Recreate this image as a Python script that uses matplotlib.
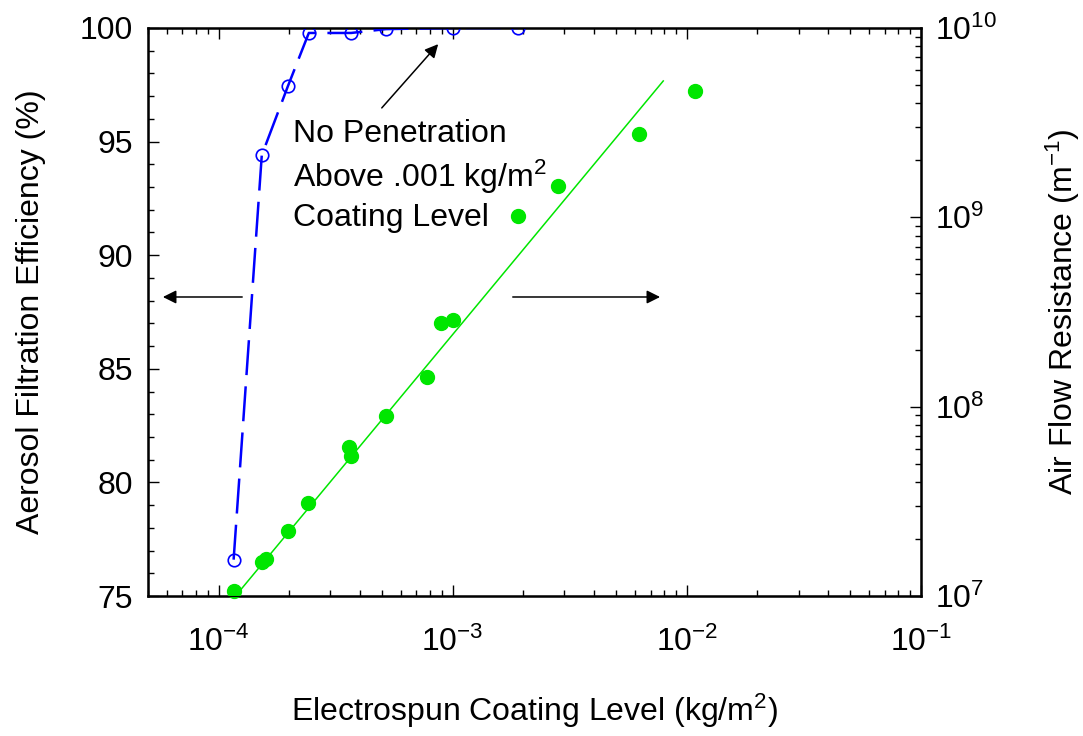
import matplotlib
matplotlib.use('Agg')
import matplotlib.pyplot as plt
from matplotlib.ticker import MultipleLocator, LogLocator, NullFormatter

plt.rcParams['font.family'] = ['Liberation Sans', 'DejaVu Sans']
plt.rcParams['mathtext.fontset'] = 'custom'
plt.rcParams['mathtext.rm'] = 'Liberation Sans'
plt.rcParams['mathtext.it'] = 'Liberation Sans:italic'
plt.rcParams['axes.unicode_minus'] = False

# filtration efficiency (left axis)
eff_x = [1.16e-4, 1.53e-4, 1.98e-4, 2.43e-4, 3.68e-4, 5.19e-4, 1.0e-3, 1.9e-3]
eff_y = [76.6, 94.4, 97.45, 99.78, 99.78, 99.95, 100.0, 100.0]

# air flow resistance (right axis)
res_x = [1.168e-4, 1.53e-4, 1.596e-4, 1.975e-4, 2.416e-4, 3.61e-4, 3.67e-4, 5.18e-4,
         7.77e-4, 8.91e-4, 1.003e-3, 1.9e-3, 2.81e-3, 6.24e-3, 1.083e-2]
res_y = [1.063e7, 1.507e7, 1.563e7, 2.213e7, 3.11e7, 6.15e7, 5.51e7, 8.89e7,
         1.436e8, 2.77e8, 2.87e8, 1.016e9, 1.464e9, 2.755e9, 4.645e9]

# fitted power-law line (end points)
fit_x = [1.0e-4, 7.93e-3]
fit_y = [7.8e6, 5.25e9]

fs = 23
fig = plt.figure(figsize=(10.83, 7.36), dpi=100)
ax = fig.add_axes([0.1367, 0.1902, 0.7137, 0.7718])
ax2 = ax.twinx()

ax.plot(eff_x, eff_y, color='blue', lw=1.8, dashes=(14, 4.5), marker='o', ms=9,
        mfc='none', mec='blue', mew=1.2, zorder=3)
ax2.plot(fit_x, fit_y, color='#00e600', lw=1.1)
ax2.plot(res_x, res_y, 'o', color='#00e600', ms=10, clip_on=False)

ax.set_xscale('log')
ax.set_xlim(5e-5, 1e-1)
ax.set_ylim(75, 100)
ax2.set_yscale('log')
ax2.set_ylim(1e7, 1e10)

ax.yaxis.set_major_locator(MultipleLocator(5))
ax.yaxis.set_minor_locator(MultipleLocator(1))
ax.xaxis.set_major_locator(LogLocator(base=10, numticks=10))
ax.xaxis.set_minor_locator(LogLocator(base=10, subs=range(2, 10), numticks=20))
ax.xaxis.set_minor_formatter(NullFormatter())
ax2.yaxis.set_minor_locator(LogLocator(base=10, subs=range(2, 10), numticks=20))
ax2.yaxis.set_minor_formatter(NullFormatter())

ax.tick_params(axis='x', which='both', direction='in', top=True, labelsize=fs, pad=22)
ax.tick_params(axis='y', which='both', direction='in', right=False, labelsize=fs, pad=11)
ax2.tick_params(axis='y', which='both', direction='in', labelsize=fs, pad=10)
for a in (ax, ax2):
    a.tick_params(which='major', length=8, width=1)
    a.tick_params(which='minor', length=4, width=1)
for sp in ax.spines.values():
    sp.set_linewidth(1.8)

ax.set_xlabel('Electrospun Coating Level (kg/m$^2$)', fontsize=fs, labelpad=24)
ax.set_ylabel('Aerosol Filtration Efficiency (%)', fontsize=fs, labelpad=24)
ax2.set_ylabel('Air Flow Resistance (m$^{-1}$)', fontsize=fs, labelpad=34)

tx = 2.08e-4
ax.text(tx, 95.0, 'No Penetration', fontsize=fs, va='baseline')
ax.text(tx, 93.01, 'Above .001 kg/m$^2$', fontsize=fs, va='baseline')
ax.text(tx, 91.28, 'Coating Level', fontsize=fs, va='baseline')

arr = dict(arrowstyle='-|>', mutation_scale=20, lw=1.1, color='black')
ax.annotate('', xy=(8.83e-4, 99.38), xytext=(4.89e-4, 96.39), arrowprops=arr)
ax.annotate('', xy=(5.63e-5, 88.16), xytext=(1.297e-4, 88.16), arrowprops=arr)
ax.annotate('', xy=(7.9e-3, 88.16), xytext=(1.757e-3, 88.16), arrowprops=arr)

fig.savefig('out.png', dpi=100)
